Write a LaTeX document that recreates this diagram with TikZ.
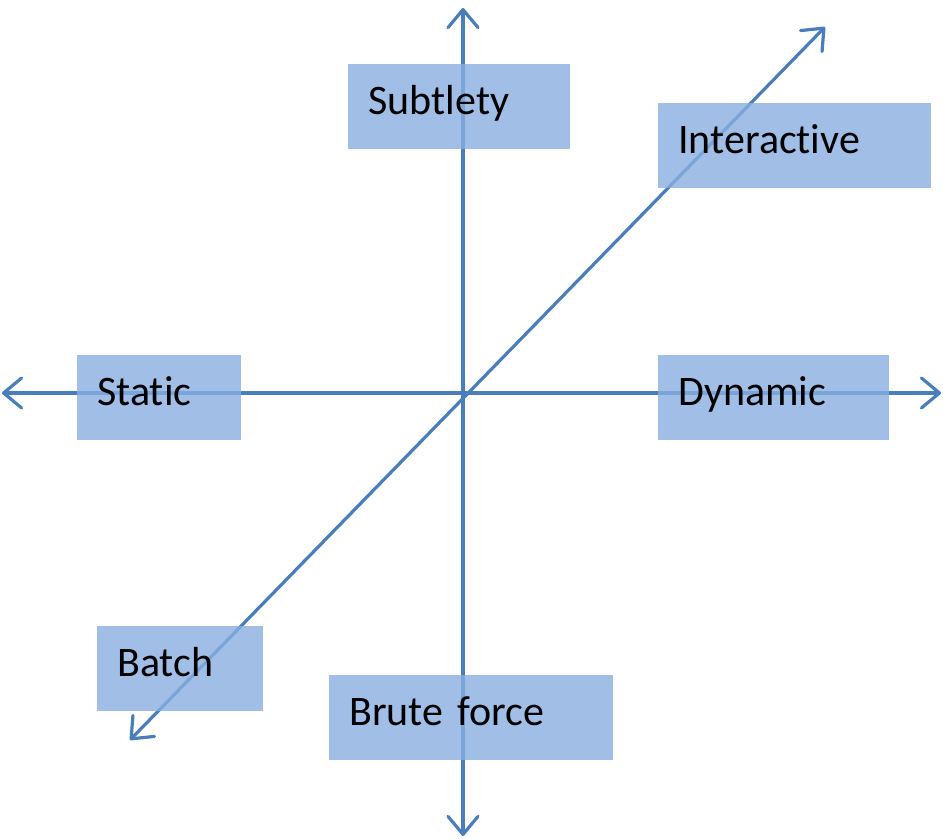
\documentclass[tikz,border=0pt]{standalone}
\usepackage{fontspec}
\setmainfont[Ligatures={NoCommon}]{Carlito}
\usetikzlibrary{arrows.meta}
\definecolor{axisblue}{RGB}{74,126,187}
\definecolor{boxblue}{RGB}{136,174,224}
\tikzset{
  axisline/.style={draw=axisblue, line width=1.6pt, line cap=round, line join=round,
    {Straight Barb[length=9pt,width=15pt,line width=1.6pt,round]}-{Straight Barb[length=9pt,width=15pt,line width=1.6pt,round]}},
  labelbox/.style={fill=boxblue, fill opacity=0.8, text opacity=1, anchor=north west,
    minimum height=42.5pt, inner xsep=10pt, inner ysep=0pt, align=left,
    text height=15pt, text depth=7.5pt,
    font=\fontsize{21}{25}\selectfont, text=black},
}
\begin{document}
\begin{tikzpicture}[x=0.5pt,y=-0.5pt]
\useasboundingbox (0,0) rectangle (943,839);
\coordinate (vtop) at (463,8);
\coordinate (vbot) at (463,836);
\coordinate (hleft) at (2,393);
\coordinate (hright) at (941,393);
\coordinate (dtop) at (825,27);
\coordinate (dbot) at (130,740);
\draw[axisline] (vbot) -- (vtop);
\draw[axisline] (hleft) -- (hright);
\draw[axisline] (dbot) -- (dtop);
\node[labelbox, minimum width=111pt, text width=91pt] (subtlety) at (348,64) {Subtlety};
\node[labelbox, minimum width=136.5pt, text width=116.5pt] (interactive) at (658,103) {Interactive};
\node[labelbox, minimum width=82pt, text width=62pt] (static) at (77,355) {Static};
\node[labelbox, minimum width=115.5pt, text width=95.5pt] (dynamic) at (658,355) {Dynamic};
\node[labelbox, minimum width=83pt, text width=63pt] (batch) at (97,626) {Batch};
\node[labelbox, minimum width=142pt, text width=122pt] (brute) at (329,675) {Brute force};
\end{tikzpicture}
\end{document}
